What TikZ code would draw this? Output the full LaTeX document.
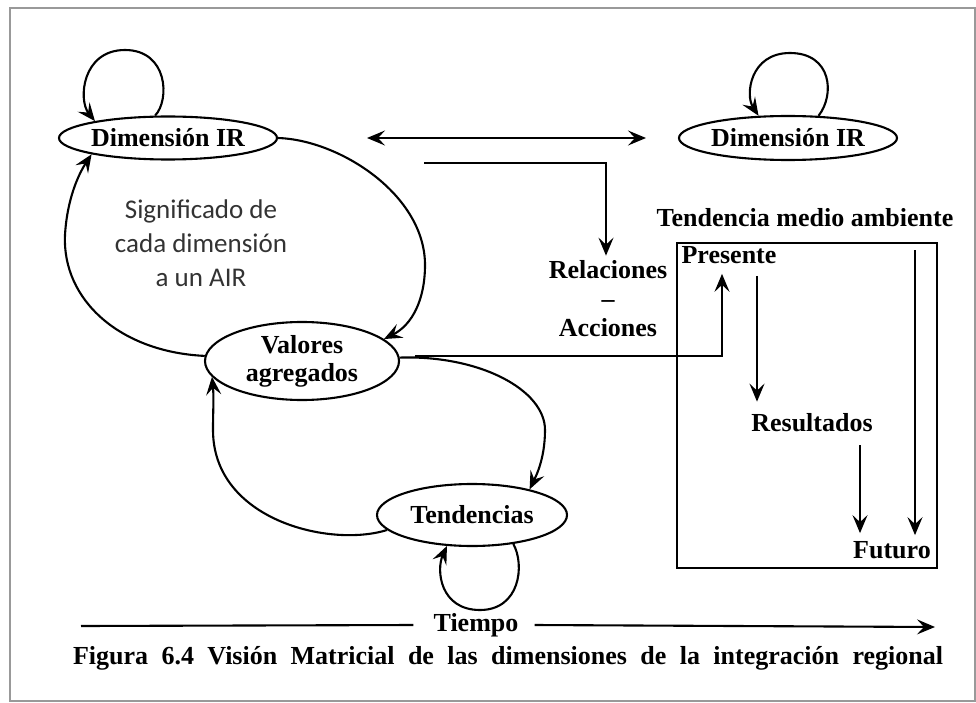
\documentclass[tikz,border=0pt]{standalone}
\usepackage{fontspec}
\setmainfont{Liberation Serif}
\newfontfamily\calib{Carlito}
\usetikzlibrary{arrows.meta,shapes.geometric}
\begin{document}
\begin{tikzpicture}[x=1pt,y=-1pt,
  lbl/.style={font=\fontsize{26}{28}\selectfont\bfseries, inner sep=0pt},
  ell/.style={ellipse, draw, line width=2.1pt, inner sep=0pt, lbl},
  con/.style={line width=2.1pt, -{Stealth[length=18pt,width=15pt,inset=7pt]}},
  dbl/.style={line width=2.1pt, {Stealth[length=18pt,width=15pt,inset=7pt]}-{Stealth[length=18pt,width=15pt,inset=7pt]}},
  plain/.style={line width=2.1pt},
]
\useasboundingbox (0,0) rectangle (976,703);
\draw[black!40, line width=2pt] (10,8) rectangle (975,701);

% nodes
\node[ell, minimum width=218pt, minimum height=43pt] (d1) at (168,138) {Dimensión IR};
\node[ell, minimum width=218pt, minimum height=44pt] (d2) at (788,138) {Dimensión IR};
\node[ell, minimum width=194pt, minimum height=78pt, align=center] (va) at (302,361) {Valores\\agregados};
\node[ell, minimum width=190pt, minimum height=62pt] (te) at (472,515) {Tendencias};
\node[lbl] (tma) at (805,218) {Tendencia medio ambiente};
\node[draw, plain, minimum width=260pt, minimum height=325pt, inner sep=0pt] (box) at (807,405.5) {};
\node[lbl] (pre) at (729,255) {Presente};
\node[lbl, align=center, font=\fontsize{26}{29}\selectfont\bfseries] (rel) at (608,299) {Relaciones\\–\\Acciones};
\node[lbl] (res) at (812,423) {Resultados};
\node[lbl] (fut) at (892,550) {Futuro};
\node[lbl] (tie) at (476,625) {Tiempo};
\node[lbl, font=\fontsize{26}{30}\selectfont\bfseries] (cap) at (508,658)
  {\makebox[870pt][s]{Figura 6.4 Visión Matricial de las dimensiones de la integración regional}};
\node[font=\calib\fontsize{27}{34}\selectfont, text=black!80, align=center, inner sep=0pt] (sig) at (201,243)
  {Significado de\\cada dimensión\\a un AIR};

% free ends
\coordinate (da) at (367,138);
\coordinate (db) at (646,138);
\coordinate (r0) at (424,163);
\coordinate (v0) at (415,356);
\coordinate (t0) at (81,626);
\coordinate (t1) at (935,627);

% self loops
\draw[con] (d1.120) .. controls (170,100) and (168,50) .. (125,50)
  .. controls (82,50) and (78,100) .. (d1.167);
\draw[con] (d2.36) .. controls (835,95) and (832,53) .. (790,53)
  .. controls (750,53) and (745,95) .. (d2.143);
\draw[con] (te.-35) .. controls (525,565) and (520,610) .. (480,610)
  .. controls (440,610) and (436,570) .. (te.-129);

% cycle curves
\draw[con] (d1.east) .. controls (340,140) and (425,195) .. (425,265)
  .. controls (425,300) and (412,325) .. (va.15);
\draw[con] (va.177) .. controls (120,352) and (62,300) .. (65,235)
  .. controls (67,200) and (78,175) .. (d1.192);
\draw[con] (va.2) .. controls (480,355) and (545,390) .. (545,430)
  .. controls (545,460) and (535,478) .. (te.24);
\draw[con] (te.190) .. controls (330,548) and (213,520) .. (213,430)
  .. controls (213,410) and (214,398) .. (va.190);

% straight connectors
\draw[dbl] (da) -- (db);
\draw[con] (r0) -| ([xshift=-2pt,yshift=5pt]rel.north);
\draw[con] (v0) -| ([xshift=-7pt,yshift=-10pt]pre.south);
\draw[con] ([xshift=28pt,yshift=-12pt]pre.south) -- ([xshift=-55pt,yshift=12pt]res.north);
\draw[con] ([xshift=48pt,yshift=-13pt]res.south) -- ([xshift=-32pt,yshift=8pt]fut.north);
\draw[con] ([xshift=110pt,yshift=-23pt]tma.south) -- ([xshift=23pt,yshift=6pt]fut.north);
\draw[plain] (t0) -- ([xshift=-20pt]tie.west);
\draw[con] ([xshift=16pt]tie.east) -- (t1);
\end{tikzpicture}
\end{document}
